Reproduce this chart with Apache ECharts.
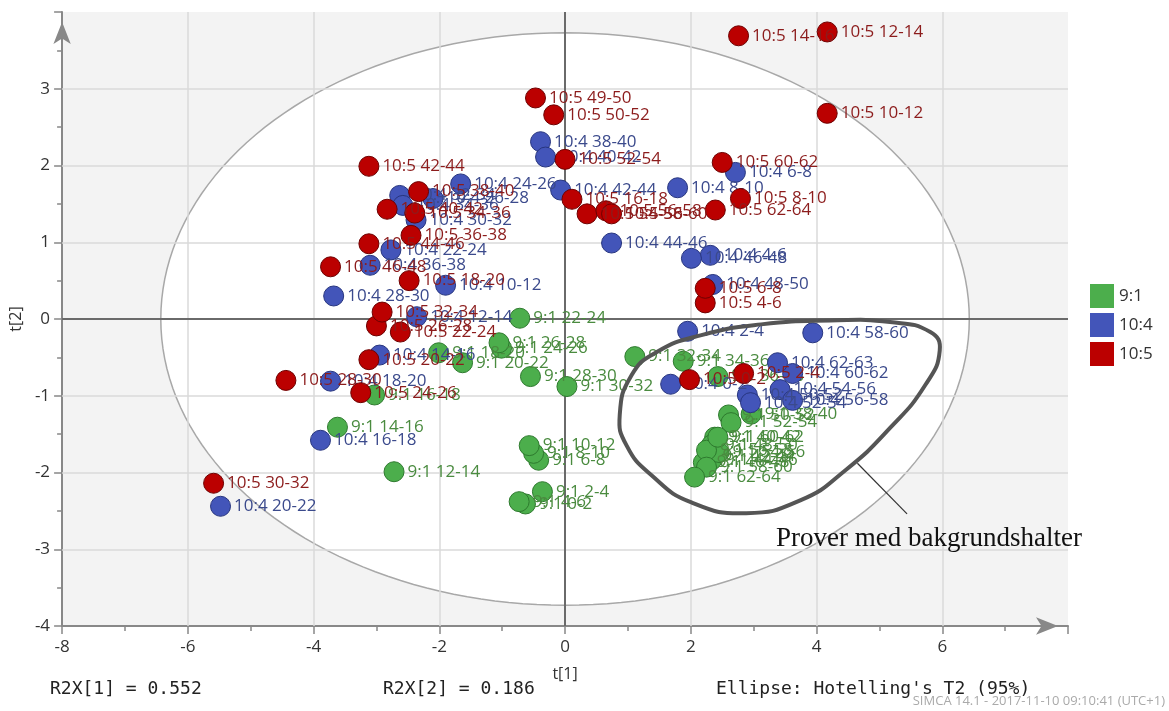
<!DOCTYPE html>
<html><head><meta charset="utf-8">
<script src="https://cdn.jsdelivr.net/npm/echarts@6/dist/echarts.min.js"></script>
<style>html,body{margin:0;padding:0;background:#fff}#c{width:1169px;height:711px}</style>
</head><body><div id="c"></div>
<script>
// ---- data ----
const names91 = ['9:1 0-2','9:1 2-4','9:1 4-6','9:1 6-8','9:1 8-10','9:1 10-12','9:1 12-14','9:1 14-16','9:1 16-18','9:1 18-20','9:1 20-22','9:1 22-24','9:1 24-26','9:1 26-28','9:1 28-30','9:1 30-32','9:1 32-34','9:1 34-36','9:1 36-38','9:1 38-40','9:1 40-42','9:1 42-44','9:1 44-46','9:1 46-48','9:1 48-50','9:1 50-52','9:1 52-54','9:1 54-56','9:1 56-58','9:1 58-60','9:1 60-62','9:1 62-64'];
const t1_91 = [-0.63,-0.36,-0.73,-0.42,-0.50,-0.57,-2.72,-3.62,-3.03,-2.01,-1.63,-0.72,-1.01,-1.05,-0.55,0.03,1.11,1.88,2.43,2.96,2.38,2.29,2.33,2.20,2.33,2.60,2.64,2.45,2.25,2.25,2.43,2.06];
const t2_91 = [-2.41,-2.25,-2.38,-1.84,-1.75,-1.65,-1.99,-1.41,-0.99,-0.44,-0.57,0.01,-0.38,-0.31,-0.75,-0.88,-0.49,-0.55,-0.75,-1.24,-1.54,-1.79,-1.84,-1.87,-1.64,-1.25,-1.35,-1.74,-1.71,-1.93,-1.54,-2.06];

const names104 = ['10:4 0-2','10:4 2-4','10:4 4-6','10:4 6-8','10:4 8-10','10:4 10-12','10:4 12-14','10:4 14-16','10:4 16-18','10:4 18-20','10:4 20-22','10:4 22-24','10:4 24-26','10:4 26-28','10:4 28-30','10:4 30-32','10:4 32-34','10:4 34-36','10:4 36-38','10:4 38-40','10:4 40-42','10:4 42-44','10:4 44-46','10:4 46-48','10:4 48-50','10:4 50-52','10:4 52-54','10:4 54-56','10:4 56-58','10:4 58-60','10:4 60-62','10:4 62-63'];
const t1_104 = [1.68,1.95,2.31,2.71,1.79,-1.90,-2.36,-2.95,-3.89,-3.73,-5.48,-2.77,-1.66,-2.10,-3.68,-2.37,-2.63,-2.58,-3.10,-0.39,-0.31,-0.07,0.74,2.01,2.35,2.90,2.95,3.42,3.62,3.94,3.62,3.38];
const t2_104 = [-0.85,-0.16,0.83,1.91,1.71,0.44,0.03,-0.47,-1.58,-0.81,-2.44,0.90,1.76,1.57,0.30,1.29,1.61,1.48,0.70,2.31,2.11,1.68,0.99,0.79,0.45,-0.99,-1.09,-0.92,-1.06,-0.18,-0.71,-0.57];

const names105 = ['10:5 0-2','10:5 2-4','10:5 4-6','10:5 6-8','10:5 8-10','10:5 10-12','10:5 12-14','10:5 14-16','10:5 16-18','10:5 18-20','10:5 20-22','10:5 22-24','10:5 24-26','10:5 26-28','10:5 28-30','10:5 30-32','10:5 32-34','10:5 34-36','10:5 36-38','10:5 38-40','10:5 40-42','10:5 42-44','10:5 44-46','10:5 46-48','10:5 49-50','10:5 50-52','10:5 52-54','10:5 54-56','10:5 56-58','10:5 58-60','10:5 60-62','10:5 62-64'];
const t1_105 = [1.98,2.84,2.23,2.23,2.79,4.17,4.17,2.76,0.11,-2.48,-3.12,-2.62,-3.25,-3.00,-4.44,-5.59,-2.91,-2.39,-2.45,-2.33,-2.83,-3.12,-3.12,-3.73,-0.47,-0.18,0.00,0.35,0.65,0.74,2.50,2.39];
const t2_105 = [-0.79,-0.71,0.21,0.40,1.57,2.68,3.74,3.69,1.56,0.50,-0.53,-0.17,-0.96,-0.09,-0.80,-2.14,0.09,1.38,1.09,1.66,1.43,1.99,0.98,0.68,2.88,2.66,2.08,1.37,1.41,1.37,2.04,1.42];

const groups = ['9:1','10:4','10:5'];
const xTicks = [-8,-6,-4,-2,0,2,4,6];
const yTicks = [-4,-3,-2,-1,0,1,2,3];
// Hotelling T2 (95%) ellipse semi-axes
const ellipseA = 6.43, ellipseB = 3.73;
// hand-drawn annotation outline (data units)
const annoX = [0.87,1.06,1.46,2.17,3.12,4.22,5.17,5.81,5.96,5.73,5.17,4.46,3.75,2.88,2.01,1.38,0.98];
const annoY = [-1.25,-0.73,-0.43,-0.21,-0.07,-0.02,-0.04,-0.17,-0.41,-0.86,-1.42,-1.97,-2.36,-2.53,-2.39,-2.04,-1.65];
const calloutX = [4.65,5.44], calloutY = [-1.88,-2.54];
const annoText = 'Prover med bakgrundshalter';

// ---- chart ----
const chart = echarts.init(document.getElementById('c'), null, {renderer:'canvas'});
const FONT = '"Open Sans", sans-serif';
const mk = (names, xs, ys) => names.map((n,i)=>[xs[i], ys[i], n]);
const styles = [
  {fill:'#4cae4c', border:'#2e7a2e', label:'#4a8b3f'},
  {fill:'#4355b9', border:'#27357f', label:'#3b4a8c'},
  {fill:'#bb0000', border:'#6e0000', label:'#8c1c1c'}
];
const datasets = [mk(names91,t1_91,t2_91), mk(names104,t1_104,t2_104), mk(names105,t1_105,t2_105)];

const pointSeries = groups.map((g, k) => ({
  name: g, type: 'scatter', z: 5 + k, symbolSize: 20,
  data: datasets[k],
  itemStyle: {color: styles[k].fill, borderColor: styles[k].border, borderWidth: 1, opacity: 1},
  label: {show: true, position: 'right', distance: 3, formatter: p => p.value[2],
          color: styles[k].label, fontSize: 17, fontFamily: FONT},
  emphasis: {disabled: true}
}));

const gridLines = xTicks.filter(v => v !== -8 && v !== 0).map(v => ({xAxis: v}))
  .concat(yTicks.filter(v => v !== -4 && v !== 0).map(v => ({yAxis: v})));

const option = {
  animation: false,
  backgroundColor: '#ffffff',
  grid: {left: 58, right: 101, top: 12, bottom: 85, show: true, backgroundColor: '#f3f3f3', borderWidth: 0, z: 0},
  legend: {
    data: groups, orient: 'vertical', left: 1085, top: 279, itemWidth: 24, itemHeight: 24, itemGap: 5,
    icon: 'rect', textStyle: {fontSize: 17, fontFamily: FONT, color: '#333'}, itemStyle: {borderWidth: 0}
  },
  xAxis: {
    type: 'value', min: -8, max: 8, interval: 2, z: 2,
    name: 't[1]', nameLocation: 'middle', nameGap: 40, nameTextStyle: {fontSize: 16, fontFamily: FONT, color: '#333'},
    axisLine: {show: true, onZero: false, symbol: ['none','arrow'], symbolSize: [13, 22], symbolOffset: [0, -10], lineStyle: {color: '#888', width: 2}},
    axisTick: {show: true, length: 8, lineStyle: {color: '#888', width: 1.5}},
    minorTick: {show: true, splitNumber: 2, length: 5, lineStyle: {color: '#888', width: 1.5}},
    axisLabel: {margin: 13, fontSize: 17, fontFamily: FONT, color: '#333', formatter: v => xTicks.includes(v) ? String(v) : ''},
    splitLine: {show: false}
  },
  yAxis: {
    type: 'value', min: -4, max: 4, interval: 1, z: 2,
    name: 't[2]', nameLocation: 'middle', nameGap: 33, nameRotate: 90, nameTextStyle: {fontSize: 16, fontFamily: FONT, color: '#333'},
    axisLine: {show: true, onZero: false, symbol: ['none','arrow'], symbolSize: [13, 22], symbolOffset: [0, -10], lineStyle: {color: '#888', width: 2}},
    axisTick: {show: true, length: 8, lineStyle: {color: '#888', width: 1.5}},
    minorTick: {show: true, splitNumber: 2, length: 5, lineStyle: {color: '#888', width: 1.5}},
    axisLabel: {margin: 12, fontSize: 17, fontFamily: FONT, color: '#333', formatter: v => yTicks.includes(v) ? String(v) : ''},
    splitLine: {show: false}
  },
  graphic: [
    {type: 'text', left: 776, top: 525, z: 100, style: {text: annoText, font: '27px "Liberation Serif", serif', fill: '#111'}},
    {type: 'text', left: 50, top: 680, style: {text: 'R2X[1] = 0.552', font: '18px "DejaVu Sans Mono", monospace', fill: '#222'}},
    {type: 'text', left: 383, top: 680, style: {text: 'R2X[2] = 0.186', font: '18px "DejaVu Sans Mono", monospace', fill: '#222'}},
    {type: 'text', left: 716, top: 680, style: {text: "Ellipse: Hotelling's T2 (95%)", font: '18px "DejaVu Sans Mono", monospace', fill: '#222'}},
    {type: 'text', right: 4, top: 695, style: {text: 'SIMCA 14.1 - 2017-11-10 09:10:41 (UTC+1)', font: '13px "Open Sans", sans-serif', fill: '#aaaaaa'}}
  ],
  series: [
    {
      type: 'custom', z: 1, silent: true, clip: false, data: [[0,0]],
      renderItem: (params, api) => {
        const pts = [];
        for (let i = 0; i < 180; i++) {
          const t = i / 180 * Math.PI * 2;
          pts.push(api.coord([ellipseA * Math.cos(t), ellipseB * Math.sin(t)]));
        }
        return {type: 'polygon', shape: {points: pts}, style: {fill: '#ffffff', stroke: '#a8a8a8', lineWidth: 1.5}};
      }
    },
    {
      type: 'scatter', z: 2, data: [], silent: true,
      markLine: {silent: true, symbol: ['none','none'], label: {show: false},
        lineStyle: {color: '#dadada', width: 1.5, type: 'solid'},
        data: gridLines}
    },
    {
      type: 'scatter', z: 3, data: [], silent: true,
      markLine: {silent: true, symbol: ['none','none'], label: {show: false},
        lineStyle: {color: '#6a6a6a', width: 2, type: 'solid'},
        data: [{xAxis: 0}, {yAxis: 0}]}
    },
    ...pointSeries,
    {
      type: 'custom', z: 10, silent: true, clip: false, data: [[0,0]],
      renderItem: (params, api) => {
        const pts = annoX.map((x,i) => api.coord([x, annoY[i]]));
        const c0 = api.coord([calloutX[0], calloutY[0]]);
        const c1 = api.coord([calloutX[1], calloutY[1]]);
        return {type: 'group', children: [
          {type: 'polygon', shape: {points: pts, smooth: 0.5}, style: {fill: 'none', stroke: '#555', lineWidth: 4}},
          {type: 'line', shape: {x1: c0[0], y1: c0[1], x2: c1[0], y2: c1[1]}, style: {stroke: '#333', lineWidth: 1.2}}
        ]};
      }
    }
  ]
};
chart.setOption(option);
</script></body></html>
